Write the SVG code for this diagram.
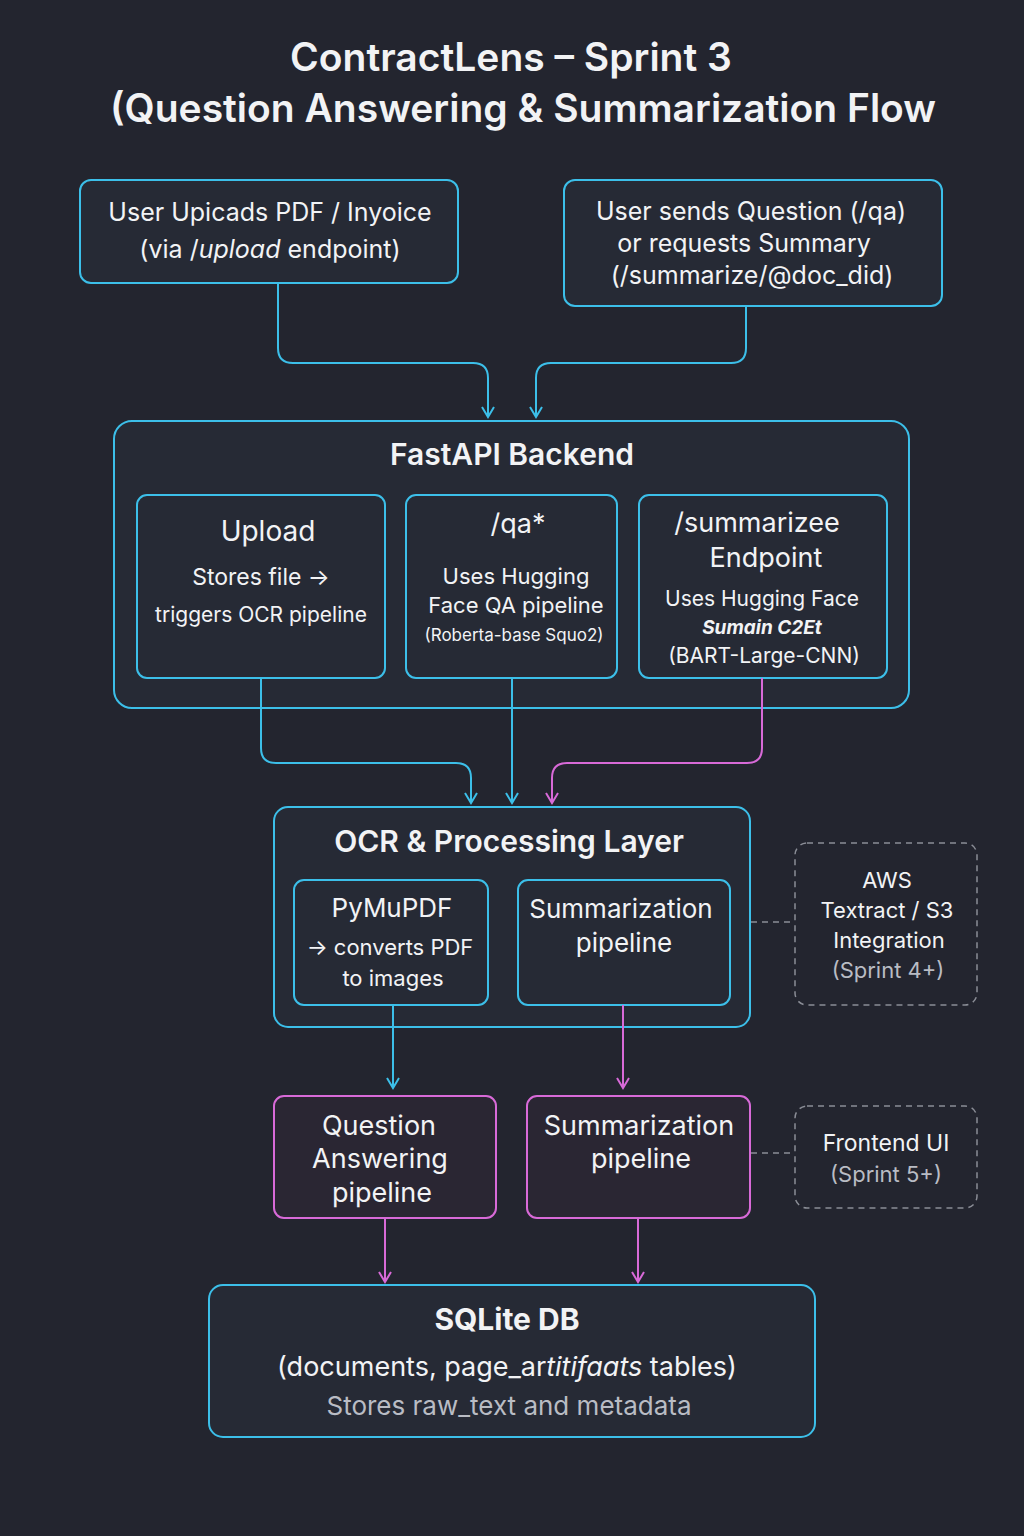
<svg xmlns="http://www.w3.org/2000/svg" width="1024" height="1536" viewBox="0 0 1024 1536">
<defs>
<style>
.t{font-family:Inter,"Noto Sans","Liberation Sans",sans-serif;fill:#f2f3f5;text-anchor:middle}
.ttl{font-size:39px;font-weight:600}
.h{font-size:30px;font-weight:600}
.m{font-size:27px}
.s{font-size:22px}
.g{fill:#b9bcc4}
.box{fill:#262a35;stroke:#3cbfe9;stroke-width:2}
.pbox{fill:#2a2633;stroke:#d86ad8;stroke-width:2}
.dbox{fill:none;stroke:#8a8d96;stroke-width:1.5;stroke-dasharray:6 5}
.c{fill:none;stroke:#3cbfe9;stroke-width:2}
.p{fill:none;stroke:#d86ad8;stroke-width:2}
.d{fill:none;stroke:#8a8d96;stroke-width:1.5;stroke-dasharray:6 5}
</style>
<marker id="ac" markerWidth="14" markerHeight="14" refX="12" refY="7" orient="auto" markerUnits="userSpaceOnUse" viewBox="0 0 14 14"><path d="M2,1 L12,7 L2,13" fill="none" stroke="#3cbfe9" stroke-width="2"/></marker>
<marker id="ap" markerWidth="14" markerHeight="14" refX="12" refY="7" orient="auto" markerUnits="userSpaceOnUse" viewBox="0 0 14 14"><path d="M2,1 L12,7 L2,13" fill="none" stroke="#d86ad8" stroke-width="2"/></marker>
</defs>
<rect width="1024" height="1536" fill="#23252f"/>
<g id="title">
<text class="t ttl" x="511" y="71">ContractLens – Sprint 3</text>
<text class="t ttl" x="523" y="122">(Question Answering &amp; Summarization Flow</text>
</g>
<g id="upload-user">
<rect class="box" x="80" y="180" width="378" height="103" rx="11"/>
<text class="t" style="font-size:25px" x="270" y="221">User Upicads PDF / Inyoice</text>
<text class="t" style="font-size:25px" x="270" y="258">(via /<tspan font-style="italic">upload</tspan> endpoint)</text>
</g>
<g id="question-user">
<rect class="box" x="564" y="180" width="378" height="126" rx="11"/>
<text class="t" style="font-size:25px" x="751" y="220">User sends Question (/qa)</text>
<text class="t" style="font-size:25px" x="744" y="252">or requests Summary</text>
<text class="t" style="font-size:25px" x="752" y="284">(/summarize/@doc_did)</text>
</g>
<g id="fastapi">
<rect class="box" x="114" y="421" width="795" height="287" rx="18"/>
<text class="t h" x="512" y="465">FastAPI Backend</text>
</g>
<g id="upload-ep">
<rect class="box" x="137" y="495" width="248" height="183" rx="10"/>
<text class="t" style="font-size:28px" x="268" y="541">Upload</text>
<text class="t" style="font-size:23px" x="261" y="585">Stores file →</text>
<text class="t" style="font-size:21px" x="261" y="622">triggers OCR pipeline</text>
</g>
<g id="qa-ep">
<rect class="box" x="406" y="495" width="211" height="183" rx="10"/>
<text class="t m" x="518" y="533">/qa*</text>
<text class="t s" x="516" y="584">Uses Hugging</text>
<text class="t s" x="516" y="613">Face QA pipeline</text>
<text class="t" style="font-size:17px" x="514" y="641">(Roberta-base Squo2)</text>
</g>
<g id="summarize-ep">
<rect class="box" x="639" y="495" width="248" height="183" rx="10"/>
<text class="t m" x="757" y="532">/summarizee</text>
<text class="t m" x="766" y="567">Endpoint</text>
<text class="t" style="font-size:21px" x="762" y="606">Uses Hugging Face</text>
<text class="t" style="font-size:19px;font-weight:700;font-style:italic" x="762" y="634">Sumain C2Et</text>
<text class="t" style="font-size:21px" x="764" y="663">(BART-Large-CNN)</text>
</g>
<g id="ocr-layer">
<rect class="box" x="274" y="807" width="476" height="220" rx="14"/>
<text class="t h" x="509" y="852">OCR &amp; Processing Layer</text>
</g>
<g id="pymupdf">
<rect class="box" x="294" y="880" width="194" height="125" rx="10"/>
<text class="t" style="font-size:26px" x="392" y="917">PyMuPDF</text>
<text class="t s" x="390" y="955">→ converts PDF</text>
<text class="t s" x="393" y="986">to images</text>
</g>
<g id="summ-proc">
<rect class="box" x="518" y="880" width="212" height="125" rx="10"/>
<text class="t" style="font-size:26px" x="621" y="918">Summarization</text>
<text class="t" style="font-size:26px" x="624" y="952">pipeline</text>
</g>
<g id="aws">
<rect class="dbox" x="795" y="843" width="182" height="162" rx="12"/>
<text class="t s" x="887" y="888">AWS</text>
<text class="t s" x="887" y="918">Textract / S3</text>
<text class="t s" x="889" y="948">Integration</text>
<text class="t s g" x="888" y="978">(Sprint 4+)</text>
</g>
<g id="qa-pipe">
<rect class="pbox" x="274" y="1096" width="222" height="122" rx="10"/>
<text class="t m" x="379" y="1135">Question</text>
<text class="t m" x="380" y="1168">Answering</text>
<text class="t m" x="382" y="1202">pipeline</text>
</g>
<g id="summ-pipe">
<rect class="pbox" x="527" y="1096" width="223" height="122" rx="10"/>
<text class="t m" x="639" y="1135">Summarization</text>
<text class="t m" x="641" y="1168">pipeline</text>
</g>
<g id="frontend">
<rect class="dbox" x="795" y="1106" width="182" height="102" rx="12"/>
<text class="t" style="font-size:23px" x="886" y="1151">Frontend UI</text>
<text class="t s g" x="886" y="1182">(Sprint 5+)</text>
</g>
<g id="sqlite">
<rect class="box" x="209" y="1285" width="606" height="152" rx="14"/>
<text class="t h" style="font-weight:700" x="507" y="1330">SQLite DB</text>
<text class="t" style="font-size:27px" x="507" y="1376">(documents, page_ar<tspan font-style="italic">titifaats</tspan> tables)</text>
<text class="t g" style="font-size:26px" x="509" y="1415">Stores raw_text and metadata</text>
</g>
<g id="connectors">
<path class="c" d="M278,283 V348 Q278,363 293,363 H473 Q488,363 488,378 V417" marker-end="url(#ac)"/>
<path class="c" d="M746,306 V348 Q746,363 731,363 H551 Q536,363 536,378 V417" marker-end="url(#ac)"/>
<path class="c" d="M261,678 V748 Q261,763 276,763 H456 Q471,763 471,778 V803" marker-end="url(#ac)"/>
<path class="c" d="M512,678 V803" marker-end="url(#ac)"/>
<path class="p" d="M762,678 V748 Q762,763 747,763 H567 Q552,763 552,778 V803" marker-end="url(#ap)"/>
<path class="c" d="M393,1005 V1088" marker-end="url(#ac)"/>
<path class="p" d="M623,1005 V1088" marker-end="url(#ap)"/>
<path class="p" d="M385,1218 V1282" marker-end="url(#ap)"/>
<path class="p" d="M638,1218 V1282" marker-end="url(#ap)"/>
<path class="d" d="M751,922 H795"/>
<path class="d" d="M751,1153 H795"/>
</g>
</svg>
